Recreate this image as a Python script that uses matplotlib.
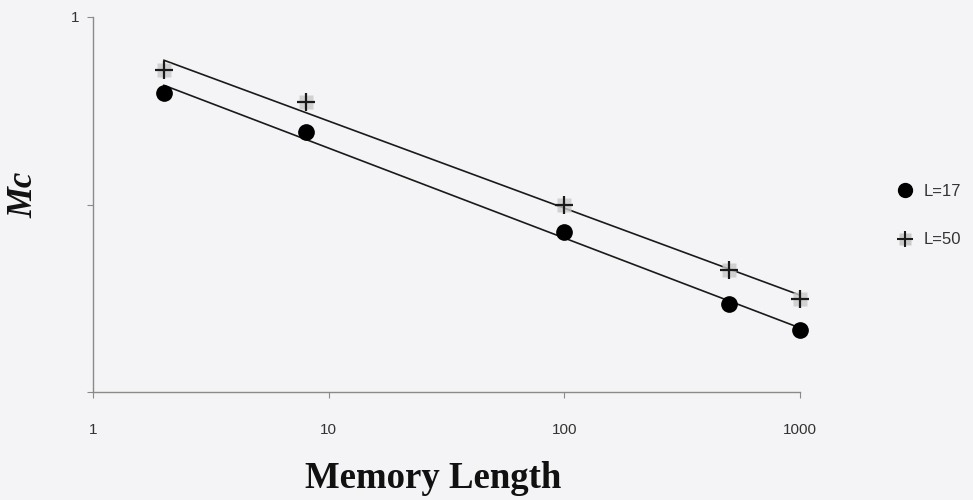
import numpy as np
import matplotlib
matplotlib.use("Agg")
import matplotlib.pyplot as plt
from matplotlib.legend_handler import HandlerTuple

memory_length = [2, 8, 100, 500, 1000]
mc_L17 = [0.395, 0.243, 0.071, 0.0295, 0.0213]
mc_L50 = [0.522, 0.353, 0.100, 0.045, 0.0312]
x_ticks = [1, 10, 100, 1000]
x_tick_labels = ["1", "10", "100", "1000"]
y_ticks = [0.01, 0.1, 1]
y_tick_labels = ["", "", "1"]

bg = "#f4f4f6"
fig = plt.figure(figsize=(9.73, 5.0), dpi=100, facecolor=bg)
ax = fig.add_axes([93/973, 1-392/500, (800-93)/973, (392-17)/500], facecolor=bg)
ax.set_xscale("log")
ax.set_yscale("log")
ax.set_xlim(1, 1000)
ax.set_ylim(0.01, 1)

x = np.array(memory_length, dtype=float)
xfit = np.array([x.min(), x.max()])
for ys in (mc_L17, mc_L50):
    p = np.polyfit(np.log10(x), np.log10(ys), 1)
    ax.plot(xfit, 10**np.polyval(p, np.log10(xfit)), color="#1a1a1a", lw=1.2,
            zorder=2, clip_on=False)

ax.plot(memory_length, mc_L17, linestyle="none", marker="o", ms=11,
        mfc="black", mec="black", zorder=4, clip_on=False)
ax.plot(memory_length, mc_L50, linestyle="none", marker="s", ms=10,
        mfc="#c9c9c9", mec="none", alpha=0.8, zorder=3, clip_on=False)
ax.plot(memory_length, mc_L50, linestyle="none", marker="+", ms=13, mew=1.6,
        color="#1a1a1a", zorder=4, clip_on=False)

for s in ("top", "right"):
    ax.spines[s].set_visible(False)
for s in ("left", "bottom"):
    ax.spines[s].set_color("#8a8a8a")
    ax.spines[s].set_linewidth(1.0)

ax.set_xticks(x_ticks)
ax.set_xticklabels(x_tick_labels)
ax.set_yticks(y_ticks)
ax.set_yticklabels(y_tick_labels)
ax.minorticks_off()
ax.tick_params(axis="x", direction="out", length=4, color="#8a8a8a", pad=18,
               labelsize=11)
ax.tick_params(axis="y", direction="out", length=4, color="#8a8a8a", pad=6,
               labelsize=11)
for lab in ax.get_xticklabels() + ax.get_yticklabels():
    lab.set_fontfamily("Liberation Sans")
    lab.set_color("#333333")

fig.text(433/973, 1-479/500, "Memory Length", fontfamily="Liberation Serif",
         fontweight="bold", fontsize=26.5, ha="center", va="center", color="#111111")
fig.text(24/973, 1-195/500, "Mc", fontfamily="Liberation Serif",
         fontweight="bold", fontstyle="italic", fontsize=25, rotation=90,
         ha="center", va="center", color="#111111")

h1 = plt.Line2D([], [], linestyle="none", marker="o", ms=10, mfc="black", mec="black")
h2a = plt.Line2D([], [], linestyle="none", marker="s", ms=8, mfc="#c9c9c9", mec="none")
h2b = plt.Line2D([], [], linestyle="none", marker="+", ms=11, mew=1.5, color="#1a1a1a")
leg = fig.legend([h1, (h2a, h2b)], ["L=17", "L=50"],
                 handler_map={tuple: HandlerTuple(ndivide=1)},
                 loc="upper left", bbox_to_anchor=(882/973, 1-169/500),
                 frameon=False, handlelength=1.0, handletextpad=0.6,
                 labelspacing=2.0,
                 prop={"family": "Liberation Sans", "size": 12})
for t in leg.get_texts():
    t.set_color("#333333")

fig.savefig("out.png", dpi=100, facecolor=bg)
